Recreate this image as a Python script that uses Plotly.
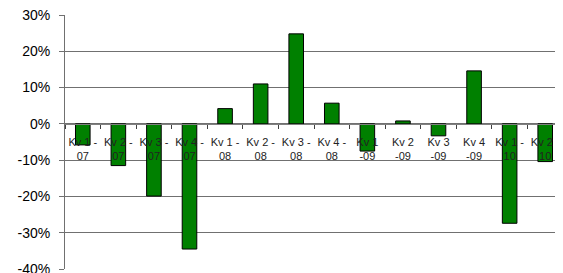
import plotly.graph_objects as go

categories = ["Kv 1 -<br>07", "Kv 2 -<br>07", "Kv 3 -<br>07", "Kv 4 -<br>07",
              "Kv 1 -<br>08", "Kv 2 -<br>08", "Kv 3 -<br>08", "Kv 4 -<br>08",
              "Kv 1<br>-09", "Kv 2<br>-09", "Kv 3<br>-09", "Kv 4<br>-09",
              "Kv 1 -<br>10", "Kv 2 -<br>10"]
values = [-0.058, -0.115, -0.199, -0.345, 0.042, 0.110, 0.248, 0.057,
          -0.075, 0.008, -0.033, 0.146, -0.274, -0.104]
y_tickvals = [-0.4, -0.3, -0.2, -0.1, 0.0, 0.1, 0.2, 0.3]
y_ticktext = ["-40%", "-30%", "-20%", "-10%", "0%", "10%", "20%", "30%"]

fig = go.Figure(go.Bar(
    x=categories, y=values,
    marker=dict(color="#008000", line=dict(color="#000000", width=1)),
    hoverinfo="skip",
))

fig.update_layout(
    width=555, height=265,
    margin=dict(l=57, r=0, t=7, b=4, autoexpand=False),
    paper_bgcolor="white", plot_bgcolor="white",
    bargap=0.59, showlegend=False,
    font=dict(family="Liberation Sans, Arial, sans-serif", color="#000000"),
    xaxis=dict(
        type="category", anchor="free", position=0.5714, automargin=False,
        showline=True, linecolor="#808080", linewidth=1,
        ticks="outside", tickson="boundaries", ticklen=4, tickcolor="#404040",
        tickfont=dict(size=11, color="#222222"), tickangle=0,
        ticklabelstandoff=8,
        showgrid=False, layer="above traces",
    ),
    yaxis=dict(
        range=[-0.4, 0.3], tickvals=y_tickvals, ticktext=y_ticktext,
        automargin=False, ticklabeloverflow="allow",
        showgrid=True, gridcolor="#707070", gridwidth=1,
        showline=True, linecolor="#707070", linewidth=1,
        ticks="outside", ticklen=5, tickcolor="#707070",
        ticklabelstandoff=6,
        tickfont=dict(size=14, color="#000000"),
        zeroline=False,
    ),
)

fig.write_html("out.html")
